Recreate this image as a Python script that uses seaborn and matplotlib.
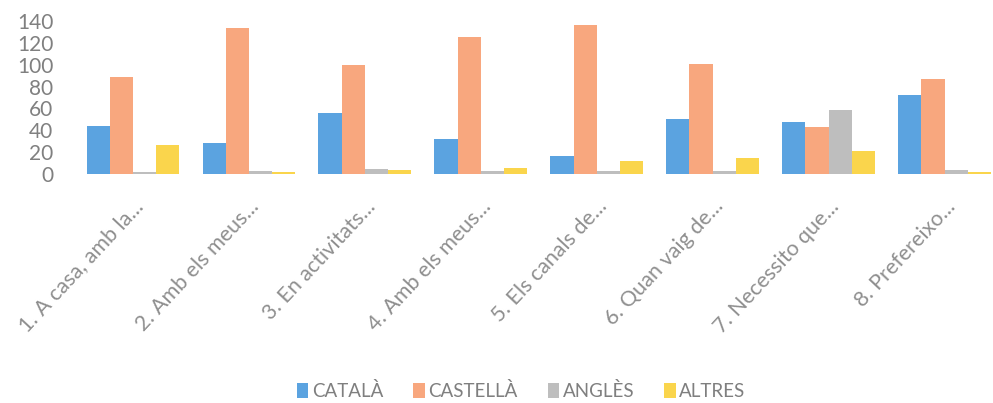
import matplotlib
matplotlib.use("Agg")
import matplotlib.pyplot as plt
import seaborn as sns
import pandas as pd

categories = ["1. A casa, amb la...", "2. Amb els meus...", "3. En activitats...",
              "4. Amb els meus...", "5. Els canals de...", "6. Quan vaig de...",
              "7. Necessito que...", "8. Prefereixo..."]
series_names = ["CATALÀ", "CASTELLÀ", "ANGLÈS", "ALTRES"]
catala = [44, 28, 56, 32, 17, 50, 48, 72]
castella = [89, 134, 100, 125, 136, 101, 43, 87]
angles = [2, 3, 5, 3, 3, 3, 59, 4]
altres = [27, 2, 4, 6, 12, 15, 21, 2]
yticks = [0, 20, 40, 60, 80, 100, 120, 140]

colors = ["#5BA3E0", "#F8A77E", "#BEBEBE", "#FAD54C"]

rows = []
for name, vals in zip(series_names, [catala, castella, angles, altres]):
    for c, v in zip(categories, vals):
        rows.append({"cat": c, "lang": name, "val": v})
df = pd.DataFrame(rows)

sns.set_theme(style="white")
plt.rcParams['font.family'] = ['Lato', 'DejaVu Sans']

fig = plt.figure(figsize=(9.93, 4.03), dpi=100)
ax = fig.add_axes([0.0872, 0.568, 0.913, 0.38])
sns.barplot(data=df, x="cat", y="val", hue="lang", palette=colors,
            order=categories, hue_order=series_names, width=0.8, ax=ax,
            edgecolor="none", saturation=1)
ax.set_ylim(0, 140)
ax.set_xlim(-0.4, 7.42)
ax.set_yticks(yticks)
ax.set_yticklabels([str(t) for t in yticks], fontsize=15, color="#808080")
ax.set_xticks(range(len(categories)))
ax.set_xticklabels(categories, rotation=47, ha="right", rotation_mode="anchor",
                   fontsize=15.5, color="#8f8f8f")
ax.tick_params(axis="x", pad=16, length=0)
ax.tick_params(axis="y", pad=24, length=0)
ax.set_xlabel("")
ax.set_ylabel("")
for s in ax.spines.values():
    s.set_visible(False)
ax.legend_.remove()
handles, labels = ax.get_legend_handles_labels()
fig.legend(handles, labels, loc="center", bbox_to_anchor=(0.525, 0.03), ncol=4,
           frameon=False, fontsize=13.5, handlelength=0.6, handleheight=0.9,
           handletextpad=0.2, columnspacing=1.6, labelcolor="#7f7f7f")
fig.savefig("out.png", dpi=100)
